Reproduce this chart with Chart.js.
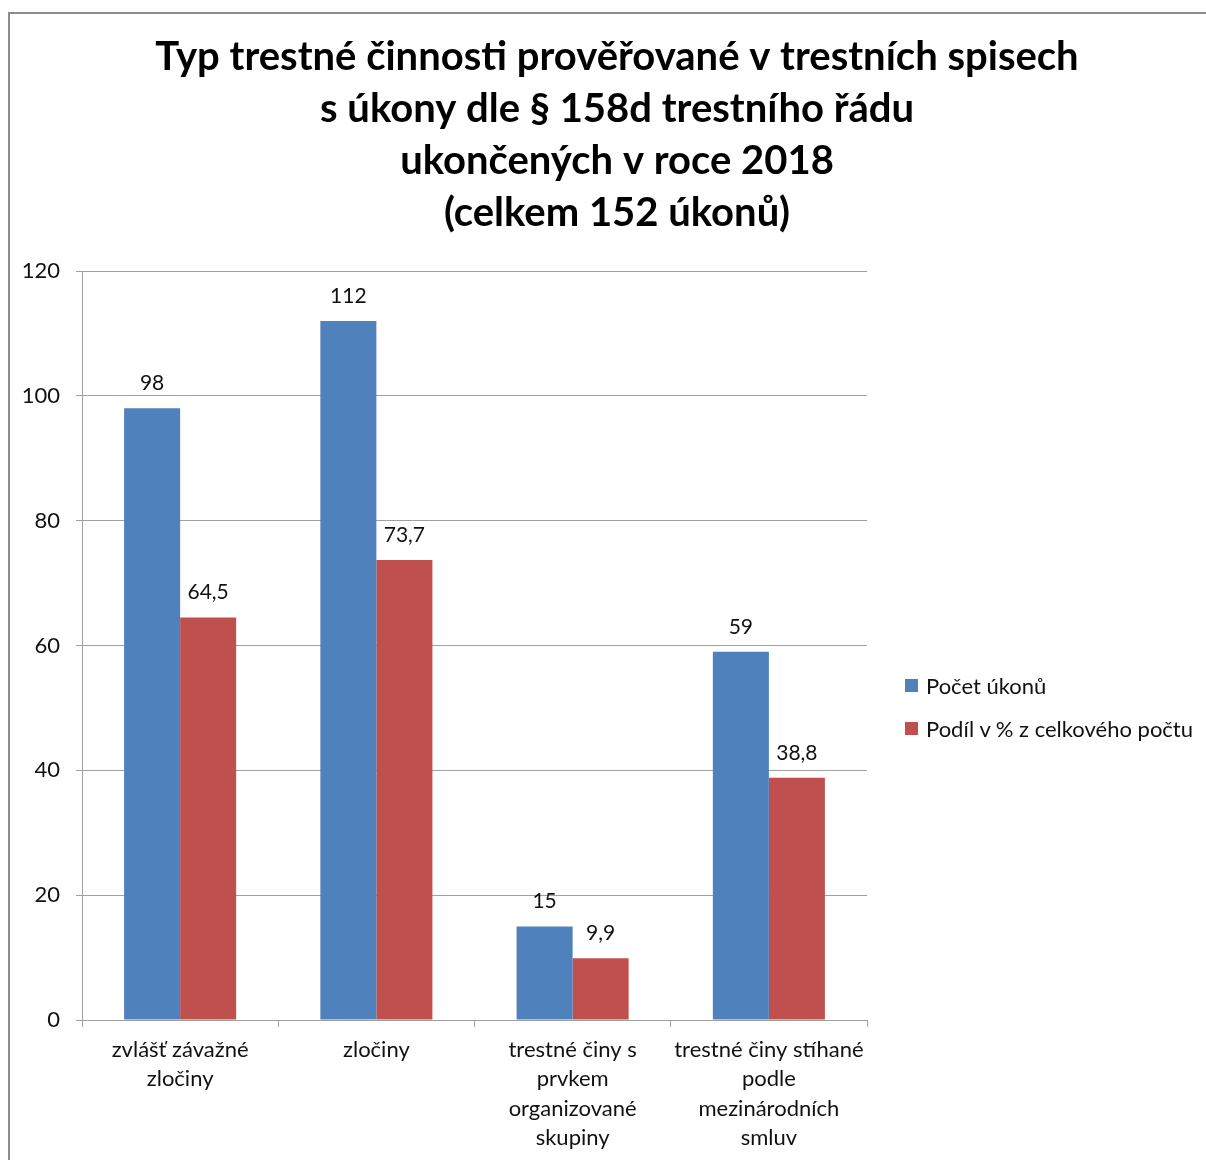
<!DOCTYPE html>
<html>
<head>
<meta charset="utf-8">
<script src="https://cdn.jsdelivr.net/npm/chart.js@4/dist/chart.umd.min.js"></script>
<style>
    html, body { margin: 0; padding: 0; background: #fff; overflow: hidden; }
    #wrap { position: relative; width: 1206px; height: 1160px; overflow: hidden; }
    #frame {
        position: absolute; left: 8px; top: 12px; width: 1300px; height: 1300px;
        border-left: 2px solid #8c8c8c; border-top: 2px solid #8c8c8c;
    }
    canvas { position: absolute; left: 0; top: 0; }
    #legend { position: absolute; left: 905px; top: 671px; font: 22px Lato, sans-serif; color: #111; }
    .item { display: flex; align-items: center; height: 28px; margin-bottom: 15px; white-space: nowrap; }
    .box { width: 13px; height: 13px; margin-right: 8px; }
</style>
</head>
<body>
<div id="wrap">
    <div id="frame"></div>
    <!-- plátno je širší než okno, aby byl titulek vystředěný jako v originálu -->
    <canvas id="chart" width="1234" height="1160"></canvas>
    <div id="legend"></div>
</div>
<script>
// údaje z grafu
const kategorie = [
    ['zvlášť závažné', 'zločiny'],
    ['zločiny'],
    ['trestné činy s', 'prvkem', 'organizované', 'skupiny'],
    ['trestné činy stíhané', 'podle', 'mezinárodních', 'smluv']
];
const pocetUkonu = [98, 112, 15, 59];
const podilProcent = [64.5, 73.7, 9.9, 38.8];
const nazvySerii = ['Počet úkonů', 'Podíl v % z celkového počtu'];
const barvy = ['#4f81bd', '#c0504d'];
const titulek = [
    'Typ trestné činnosti prověřované v trestních spisech',
    's úkony dle § 158d trestního řádu',
    'ukončených v roce 2018',
    '(celkem 152 úkonů)'
];

const fontName = 'Lato, sans-serif';

// popisky hodnot nad sloupci
const hodnotyNadSloupci = {
    id: 'hodnotyNadSloupci',
    afterDatasetsDraw(chart) {
        const ctx = chart.ctx;
        ctx.save();
        ctx.font = '21px ' + fontName;
        ctx.fillStyle = '#111';
        ctx.textAlign = 'center';
        ctx.textBaseline = 'middle';
        chart.data.datasets.forEach((ds, i) => {
            chart.getDatasetMeta(i).data.forEach((bar, j) => {
                const txt = String(ds.data[j]).replace('.', ',');
                ctx.fillText(txt, bar.x, bar.y - 25);
            });
        });
        ctx.restore();
    }
};

const ctx = document.getElementById('chart').getContext('2d');

new Chart(ctx, {
    type: 'bar',
    data: {
        labels: kategorie,
        datasets: [
            { label: nazvySerii[0], data: pocetUkonu, backgroundColor: barvy[0] },
            { label: nazvySerii[1], data: podilProcent, backgroundColor: barvy[1] }
        ]
    },
    options: {
        responsive: false,
        animation: false,
        categoryPercentage: 0.571,
        barPercentage: 1.0,
        layout: { padding: 0 },
        plugins: {
            legend: { display: false },
            tooltip: { enabled: false },
            title: {
                display: true,
                text: titulek,
                color: '#000',
                font: { family: fontName, size: 40, weight: 'bold', lineHeight: 1.3 },
                padding: { top: 31, bottom: 32 },
                align: 'center'
            }
        },
        scales: {
            x: {
                afterFit: s => { s.height = 140; },
                grid: {
                    drawOnChartArea: false,
                    drawTicks: true,
                    tickLength: 7,
                    color: '#a0a0a0'
                },
                border: { display: true, color: '#a0a0a0' },
                ticks: {
                    color: '#111',
                    maxRotation: 0,
                    autoSkip: false,
                    padding: 8,
                    font: { family: fontName, size: 22, lineHeight: 1.34 }
                }
            },
            y: {
                min: 0,
                max: 120,
                afterFit: s => { s.width = 82; },
                grid: { color: '#a0a0a0', tickLength: 6 },
                border: { display: true, color: '#a0a0a0' },
                ticks: {
                    stepSize: 20,
                    color: '#111',
                    padding: 16,
                    font: { family: fontName, size: 22 }
                }
            },
            // prázdná osa vpravo – místo pro legendu
            y2: {
                position: 'right',
                min: 0,
                max: 120,
                afterFit: s => { s.width = 367; },
                grid: { display: false },
                border: { display: false },
                ticks: { display: false }
            }
        }
    },
    plugins: [hodnotyNadSloupci]
});

// legenda vpravo
const legenda = document.getElementById('legend');
nazvySerii.forEach((n, i) => {
    const row = document.createElement('div');
    row.className = 'item';
    row.innerHTML = '<span class="box" style="background:' + barvy[i] + '"></span><span>' + n + '</span>';
    legenda.appendChild(row);
});
</script>
</body>
</html>
